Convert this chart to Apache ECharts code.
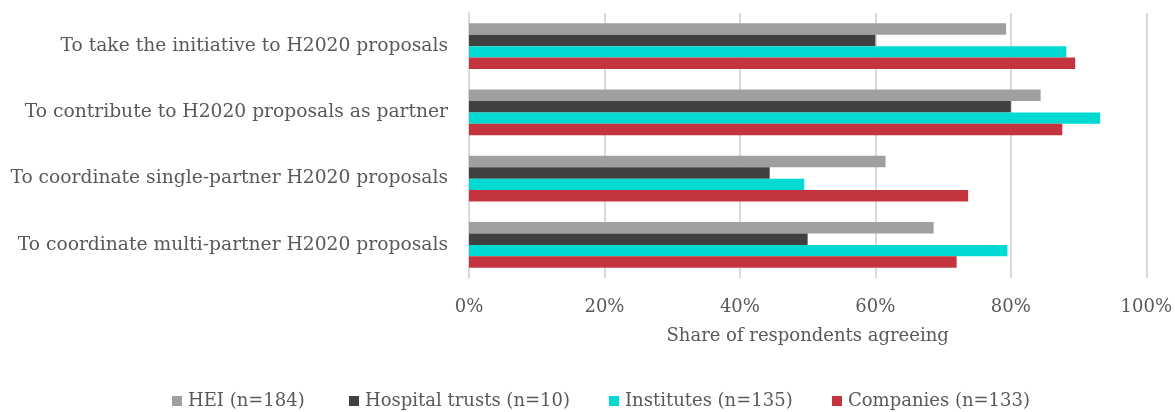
<!DOCTYPE html>
<html>
<head>
<meta charset="utf-8">
<script src="https://cdn.jsdelivr.net/npm/echarts@6/dist/echarts.min.js"></script>
<style>
html,body{margin:0;padding:0;background:#fff;}
#chart{width:1175px;height:412px;}
</style>
</head>
<body>
<div id="chart"></div>
<script>
const categories = [
  'To take the initiative to H2020 proposals',
  'To contribute to H2020 proposals as partner',
  'To coordinate single-partner H2020 proposals',
  'To coordinate multi-partner H2020 proposals'
];
const seriesNames = ['HEI (n=184)', 'Hospital trusts (n=10)', 'Institutes (n=135)', 'Companies (n=133)'];
const heiValues = [79.3, 84.4, 61.5, 68.6];
const hospitalValues = [60.0, 80.0, 44.4, 50.0];
const instituteValues = [88.2, 93.2, 49.5, 79.5];
const companyValues = [89.5, 87.6, 73.7, 72.0];
const xTicks = [0, 20, 40, 60, 80, 100];
const colors = ['#9F9F9F', '#404040', '#00DAD3', '#C3343E'];
const legendLeft = [172, 349, 609, 832];

const FONT = 'DejaVu Serif';
const TXT = '#595959';
const allValues = [heiValues, hospitalValues, instituteValues, companyValues];

const chart = echarts.init(document.getElementById('chart'), null, {renderer: 'canvas'});
chart.setOption({
  animation: false,
  backgroundColor: '#fff',
  textStyle: {fontFamily: FONT, color: TXT},
  grid: {left: 469, right: 28, top: 13, bottom: 134, containLabel: false},
  legend: seriesNames.map((name, i) => ({
    top: 391,
    left: legendLeft[i],
    padding: 0,
    itemWidth: 10,
    itemHeight: 10,
    icon: 'rect',
    textStyle: {fontFamily: FONT, fontSize: 18, color: TXT, lineHeight: 20, padding: [0, 0, 0, 1]},
    data: [name]
  })),
  xAxis: {
    type: 'value',
    min: xTicks[0],
    max: xTicks[xTicks.length - 1],
    interval: 20,
    name: 'Share of respondents agreeing',
    nameLocation: 'middle',
    nameGap: 49,
    nameTextStyle: {fontFamily: FONT, fontSize: 18, color: TXT, verticalAlign: 'top'},
    axisLine: {show: false},
    axisTick: {show: false},
    axisLabel: {fontFamily: FONT, fontSize: 18, color: TXT, margin: 20, formatter: v => v + '%'},
    splitLine: {show: true, lineStyle: {color: '#D9D9D9', width: 2}}
  },
  yAxis: {
    type: 'category',
    inverse: true,
    data: categories,
    axisLine: {show: true, lineStyle: {color: '#D9D9D9', width: 2}},
    axisTick: {show: false},
    axisLabel: {fontFamily: FONT, fontSize: 18.7, color: TXT, margin: 21}
  },
  series: seriesNames.map((name, i) => ({
    name: name,
    type: 'bar',
    data: allValues[i],
    barGap: '0%',
    barCategoryGap: '31%',
    itemStyle: {color: colors[i]}
  }))
});
</script>
</body>
</html>
